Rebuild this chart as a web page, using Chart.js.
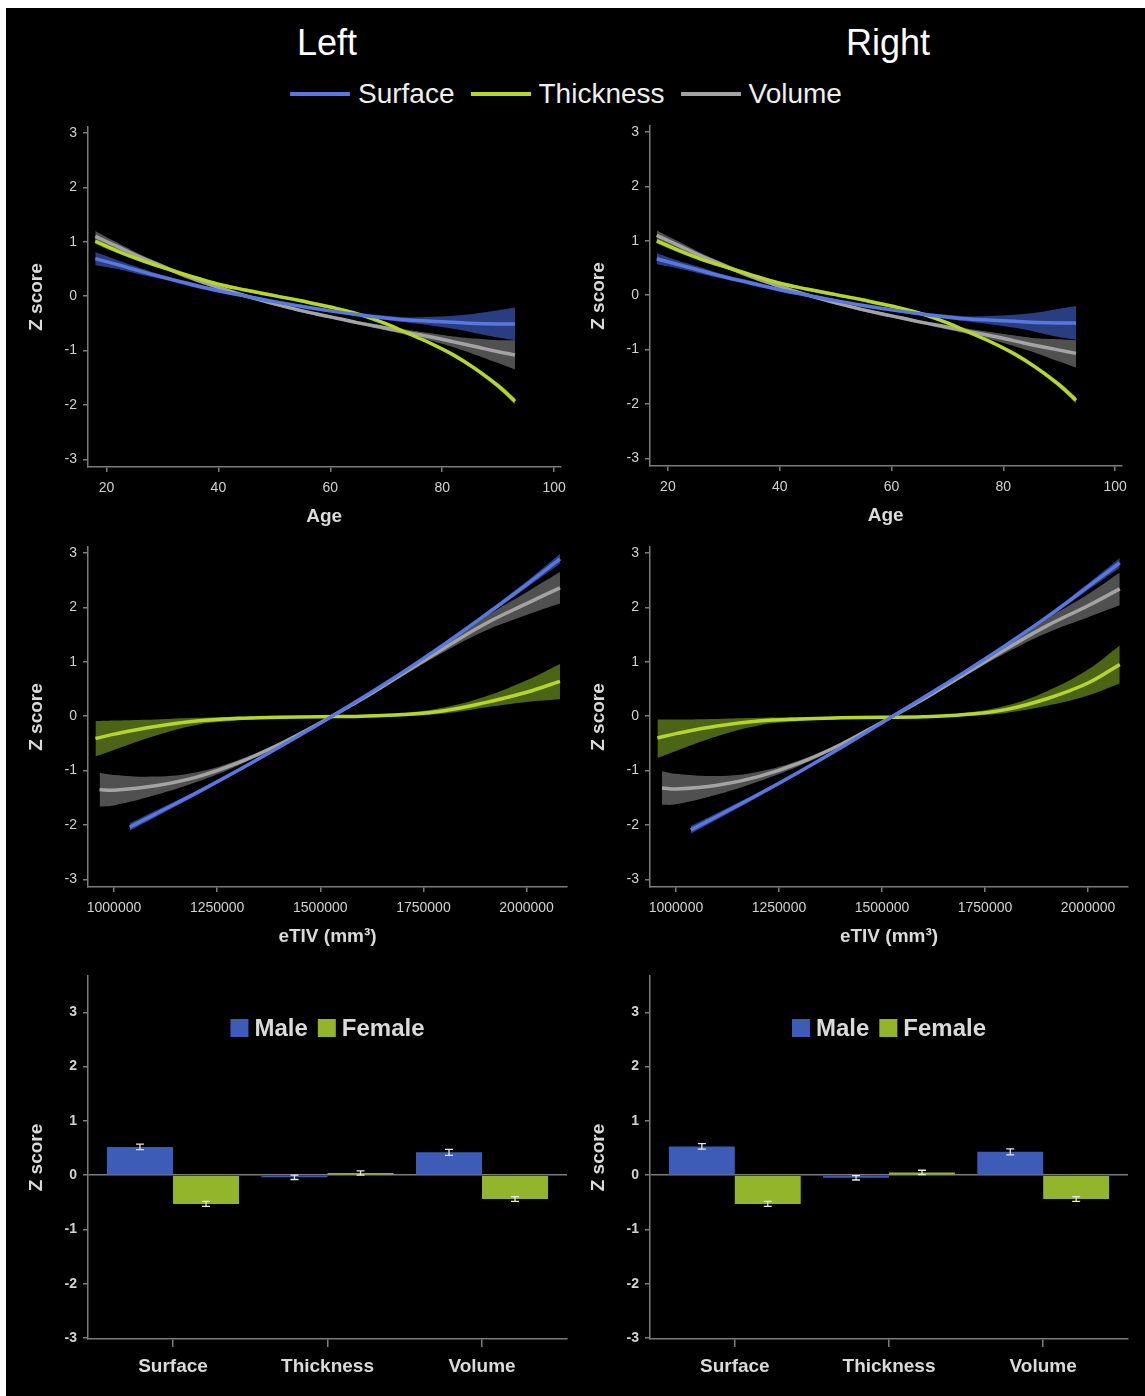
<!DOCTYPE html>
<html>
<head>
<meta charset="utf-8">
<script src="https://cdn.jsdelivr.net/npm/chart.js@4.4.1/dist/chart.umd.min.js"></script>
<style>
  body { margin: 0; background: #fff; overflow: hidden; font-family: "Liberation Sans", Arial, sans-serif; }
  #bg { position: absolute; left: 6px; top: 8px; width: 1139px; height: 1388px; background: #000; }
  .side { position: absolute; top: 25px; width: 200px; margin-left: -100px; text-align: center; color: #fff; font-size: 36px; line-height: 36px; }
  #legend { position: absolute; left: 290px; top: 80px; display: flex; align-items: center; color: #eee; font-size: 28px; line-height: 28px; }
  #legend .swatch { width: 60px; height: 4px; margin-right: 8px; }
  #legend .item { margin-right: 16px; }
  canvas { position: absolute; }
</style>
</head>
<body>
<div id="bg"></div>
<div class="side" style="left:327px">Left</div>
<div class="side" style="left:888px">Right</div>
<div id="legend"></div>

<script>
// axis ticks and categories
const zTicks = [-3, -2, -1, 0, 1, 2, 3];
const ageTicks = [20, 40, 60, 80, 100];
const etivTicks = [1000000, 1250000, 1500000, 1750000, 2000000];
const categories = ['Surface', 'Thickness', 'Volume'];
const measures = ['Surface', 'Thickness', 'Volume'];

// fitted curves, rows: [x, lower, fit, upper]
const leftAgeSurface = [[18, 0.57, 0.69, 0.81], [22, 0.50, 0.58, 0.66], [26, 0.40, 0.46, 0.52], [30, 0.31, 0.35, 0.39], [35, 0.18, 0.22, 0.26], [40, 0.07, 0.10, 0.13], [45, -0.03, 0.00, 0.03], [50, -0.13, -0.10, -0.07], [55, -0.22, -0.19, -0.16], [60, -0.30, -0.27, -0.24], [65, -0.37, -0.34, -0.31], [70, -0.44, -0.40, -0.36], [74, -0.49, -0.44, -0.39], [78, -0.54, -0.46, -0.38], [82, -0.60, -0.48, -0.36], [86, -0.68, -0.50, -0.32], [90, -0.76, -0.51, -0.26], [93, -0.81, -0.51, -0.21]];
const leftAgeThickness = [[18, 0.96, 1.01, 1.06], [22, 0.79, 0.83, 0.87], [26, 0.64, 0.67, 0.70], [30, 0.50, 0.53, 0.56], [35, 0.34, 0.37, 0.40], [40, 0.19, 0.22, 0.25], [45, 0.08, 0.11, 0.14], [50, -0.02, 0.01, 0.04], [55, -0.12, -0.09, -0.06], [60, -0.23, -0.20, -0.17], [65, -0.36, -0.33, -0.30], [70, -0.54, -0.51, -0.48], [74, -0.72, -0.69, -0.66], [78, -0.90, -0.87, -0.84], [82, -1.12, -1.08, -1.04], [86, -1.38, -1.34, -1.30], [90, -1.70, -1.65, -1.60], [93, -1.99, -1.93, -1.87]];
const leftAgeVolume = [[18, 1.00, 1.10, 1.20], [22, 0.84, 0.91, 0.98], [26, 0.67, 0.72, 0.77], [30, 0.51, 0.55, 0.59], [35, 0.30, 0.34, 0.38], [40, 0.13, 0.16, 0.19], [45, -0.03, 0.00, 0.03], [50, -0.17, -0.14, -0.11], [55, -0.30, -0.27, -0.24], [60, -0.41, -0.38, -0.35], [65, -0.52, -0.49, -0.46], [70, -0.63, -0.59, -0.55], [74, -0.72, -0.67, -0.62], [78, -0.82, -0.75, -0.68], [82, -0.94, -0.84, -0.74], [86, -1.08, -0.93, -0.78], [90, -1.23, -1.02, -0.81], [93, -1.35, -1.08, -0.81]];

const rightAgeSurface = [[18, 0.57, 0.67, 0.77], [22, 0.49, 0.56, 0.63], [26, 0.39, 0.45, 0.51], [30, 0.30, 0.34, 0.38], [35, 0.18, 0.22, 0.26], [40, 0.07, 0.10, 0.13], [45, -0.03, 0.00, 0.03], [50, -0.13, -0.10, -0.07], [55, -0.22, -0.19, -0.16], [60, -0.30, -0.27, -0.24], [65, -0.37, -0.34, -0.31], [70, -0.44, -0.40, -0.36], [74, -0.49, -0.44, -0.39], [78, -0.54, -0.46, -0.38], [82, -0.60, -0.48, -0.36], [86, -0.68, -0.50, -0.32], [90, -0.77, -0.51, -0.25], [93, -0.82, -0.51, -0.20]];
const rightAgeThickness = [[18, 0.95, 1.00, 1.05], [22, 0.78, 0.82, 0.86], [26, 0.63, 0.66, 0.69], [30, 0.50, 0.53, 0.56], [35, 0.34, 0.37, 0.40], [40, 0.19, 0.22, 0.25], [45, 0.08, 0.11, 0.14], [50, -0.02, 0.01, 0.04], [55, -0.12, -0.09, -0.06], [60, -0.23, -0.20, -0.17], [65, -0.36, -0.33, -0.30], [70, -0.54, -0.51, -0.48], [74, -0.72, -0.69, -0.66], [78, -0.90, -0.87, -0.84], [82, -1.12, -1.08, -1.04], [86, -1.38, -1.34, -1.30], [90, -1.70, -1.65, -1.60], [93, -1.99, -1.93, -1.87]];
const rightAgeVolume = [[18, 1.01, 1.10, 1.19], [22, 0.84, 0.91, 0.98], [26, 0.67, 0.72, 0.77], [30, 0.51, 0.55, 0.59], [35, 0.30, 0.34, 0.38], [40, 0.13, 0.16, 0.19], [45, -0.03, 0.00, 0.03], [50, -0.17, -0.14, -0.11], [55, -0.30, -0.27, -0.24], [60, -0.41, -0.38, -0.35], [65, -0.52, -0.49, -0.46], [70, -0.63, -0.59, -0.55], [74, -0.72, -0.67, -0.62], [78, -0.82, -0.75, -0.68], [82, -0.94, -0.84, -0.74], [86, -1.07, -0.93, -0.79], [90, -1.22, -1.01, -0.81], [93, -1.33, -1.07, -0.83]];

const leftTivSurface = [[1038000, -2.11, -2.04, -1.97], [1100000, -1.86, -1.80, -1.74], [1200000, -1.45, -1.41, -1.37], [1300000, -1.03, -1.00, -0.97], [1400000, -0.60, -0.57, -0.54], [1500000, -0.16, -0.13, -0.10], [1600000, 0.30, 0.33, 0.36], [1700000, 0.78, 0.81, 0.84], [1800000, 1.28, 1.32, 1.36], [1900000, 1.82, 1.86, 1.90], [2000000, 2.36, 2.42, 2.48], [2081000, 2.80, 2.89, 2.98]];
const leftTivThickness = [[955000, -0.74, -0.41, -0.09], [1000000, -0.62, -0.33, -0.08], [1100000, -0.36, -0.19, -0.06], [1200000, -0.16, -0.09, -0.03], [1300000, -0.08, -0.04, -0.01], [1400000, -0.04, -0.02, 0.00], [1500000, -0.03, -0.01, 0.01], [1600000, -0.02, 0.00, 0.02], [1700000, 0.00, 0.03, 0.06], [1800000, 0.05, 0.10, 0.16], [1900000, 0.16, 0.25, 0.36], [2000000, 0.26, 0.44, 0.66], [2081000, 0.31, 0.64, 0.96]];
const leftTivVolume = [[965000, -1.66, -1.35, -1.04], [1000000, -1.64, -1.36, -1.08], [1100000, -1.45, -1.28, -1.11], [1200000, -1.21, -1.12, -1.03], [1300000, -0.91, -0.86, -0.81], [1400000, -0.55, -0.52, -0.49], [1500000, -0.14, -0.12, -0.10], [1600000, 0.28, 0.31, 0.34], [1700000, 0.74, 0.78, 0.82], [1800000, 1.18, 1.25, 1.32], [1900000, 1.57, 1.70, 1.83], [2000000, 1.86, 2.07, 2.28], [2081000, 2.07, 2.36, 2.65]];

const rightTivSurface = [[1036000, -2.16, -2.09, -2.02], [1100000, -1.90, -1.84, -1.78], [1200000, -1.48, -1.44, -1.40], [1300000, -1.05, -1.02, -0.99], [1400000, -0.61, -0.58, -0.55], [1500000, -0.15, -0.12, -0.09], [1600000, 0.31, 0.34, 0.37], [1700000, 0.78, 0.81, 0.84], [1800000, 1.26, 1.30, 1.34], [1900000, 1.78, 1.82, 1.86], [2000000, 2.32, 2.38, 2.44], [2077000, 2.73, 2.82, 2.91]];
const rightTivThickness = [[955000, -0.77, -0.40, -0.06], [1000000, -0.64, -0.32, -0.06], [1100000, -0.37, -0.18, -0.05], [1200000, -0.17, -0.09, -0.03], [1300000, -0.09, -0.05, -0.02], [1400000, -0.05, -0.03, -0.01], [1500000, -0.04, -0.02, 0.00], [1600000, -0.03, -0.01, 0.01], [1700000, 0.00, 0.03, 0.06], [1800000, 0.06, 0.12, 0.19], [1900000, 0.19, 0.32, 0.46], [2000000, 0.38, 0.61, 0.86], [2077000, 0.60, 0.95, 1.30]];
const rightTivVolume = [[966000, -1.63, -1.32, -1.01], [1000000, -1.62, -1.34, -1.06], [1100000, -1.44, -1.27, -1.10], [1200000, -1.20, -1.11, -1.02], [1300000, -0.91, -0.86, -0.81], [1400000, -0.55, -0.52, -0.49], [1500000, -0.13, -0.11, -0.09], [1600000, 0.28, 0.31, 0.34], [1700000, 0.73, 0.77, 0.81], [1800000, 1.16, 1.23, 1.30], [1900000, 1.53, 1.66, 1.79], [2000000, 1.82, 2.03, 2.24], [2077000, 2.04, 2.34, 2.64]];

// sex differences per measure, with error bar half widths
const leftMale = [0.52, -0.04, 0.42];
const leftMaleErr = [0.05, 0.04, 0.055];
const leftFemale = [-0.53, 0.04, -0.44];
const leftFemaleErr = [0.045, 0.04, 0.045];
const rightMale = [0.53, -0.05, 0.43];
const rightMaleErr = [0.05, 0.04, 0.055];
const rightFemale = [-0.53, 0.05, -0.44];
const rightFemaleErr = [0.045, 0.04, 0.045];

const lineColors = ['#5878e0', '#b5d62a', '#a3a3a3'];
const bandColors = ['#2a3d80', '#4b6415', '#505050'];
const barColors = ['#3d5cb8', '#93b52b'];
const axisColor = '#7c7c7c';
const tickColor = '#d2d2d2';
const titleColor = '#dadada';

Chart.defaults.font.family = "'Liberation Sans', Arial, sans-serif";
Chart.defaults.color = tickColor;

// shared legend on top
const legendEl = document.getElementById('legend');
measures.forEach((m, i) => {
  const sw = document.createElement('span');
  sw.className = 'swatch';
  sw.style.background = lineColors[i];
  const tx = document.createElement('span');
  tx.className = 'item';
  tx.textContent = m;
  legendEl.appendChild(sw);
  legendEl.appendChild(tx);
});

const Y_W = 82, X_H = 76, PAD_T = 16, PAD_R = 12;

function makeCtx(box) {
  const c = document.createElement('canvas');
  c.width = box.r - box.l + Y_W + PAD_R;
  c.height = box.b - box.t + PAD_T + X_H;
  c.style.left = (box.l - Y_W) + 'px';
  c.style.top = (box.t - PAD_T) + 'px';
  document.body.appendChild(c);
  return c.getContext('2d');
}

function zScale(min, max, bold, zeroLine) {
  return {
    min: min, max: max,
    afterBuildTicks: s => { s.ticks = zTicks.map(v => ({ value: v })); },
    afterFit: s => { s.width = Y_W; },
    border: { color: axisColor, width: 1.5 },
    grid: {
      drawOnChartArea: zeroLine,
      color: c => (zeroLine && c.tick && c.tick.value === 0) ? axisColor : 'rgba(0,0,0,0)',
      tickColor: axisColor, tickLength: 5, lineWidth: 1.5
    },
    ticks: { color: tickColor, font: { size: 14, weight: bold ? 'bold' : 'normal' }, padding: 6 },
    title: { display: true, text: 'Z score', color: titleColor, font: { size: 19, weight: 'bold' }, padding: { top: 19, bottom: 0 } }
  };
}

function xScale(min, max, ticks, label) {
  return {
    type: 'linear', min: min, max: max,
    afterBuildTicks: s => { s.ticks = ticks.map(v => ({ value: v })); },
    afterFit: s => { s.height = X_H; },
    border: { color: axisColor, width: 1.5 },
    grid: { drawOnChartArea: false, color: axisColor, tickLength: 5, lineWidth: 1.5 },
    ticks: { color: tickColor, font: { size: 14 }, padding: 8, callback: v => String(v) },
    title: { display: true, text: label, color: titleColor, font: { size: 19, weight: 'bold' }, padding: { top: 0, bottom: 15 } }
  };
}

function bandSets(rows, i) {
  const common = { pointRadius: 0, tension: 0.4 };
  return [
    Object.assign({ data: rows.map(r => ({ x: r[0], y: r[3] })), borderWidth: 0, borderColor: 'transparent', fill: false, order: 2 }, common),
    Object.assign({ data: rows.map(r => ({ x: r[0], y: r[1] })), borderWidth: 0, borderColor: 'transparent', fill: '-1', backgroundColor: bandColors[i], order: 2 }, common),
    Object.assign({ data: rows.map(r => ({ x: r[0], y: r[2] })), borderColor: lineColors[i], borderWidth: 3.5, fill: false, order: 1 }, common)
  ];
}

function curveChart(box, series, xmin, xmax, ticks, label) {
  let datasets = [];
  series.forEach((rows, i) => { datasets = datasets.concat(bandSets(rows, i)); });
  new Chart(makeCtx(box), {
    type: 'line',
    data: { datasets: datasets },
    options: {
      responsive: false, animation: false,
      layout: { padding: { top: PAD_T, right: PAD_R, left: 0, bottom: 0 } },
      plugins: { legend: { display: false }, tooltip: { enabled: false } },
      scales: { x: xScale(xmin, xmax, ticks, label), y: zScale(-3.14, 3.11, false, false) }
    }
  });
}

// error bars drawn through the y scale
const errorBars = {
  id: 'errorBars',
  afterDatasetsDraw(chart) {
    const ctx = chart.ctx, y = chart.scales.y;
    ctx.save();
    ctx.strokeStyle = '#e8e8e8';
    ctx.lineWidth = 1.3;
    chart.data.datasets.forEach((ds, i) => {
      chart.getDatasetMeta(i).data.forEach((bar, j) => {
        const v = ds.data[j].y, e = ds.errors[j];
        const y1 = y.getPixelForValue(v - e), y2 = y.getPixelForValue(v + e);
        ctx.beginPath();
        ctx.moveTo(bar.x, y1); ctx.lineTo(bar.x, y2);
        ctx.moveTo(bar.x - 4, y1); ctx.lineTo(bar.x + 4, y1);
        ctx.moveTo(bar.x - 4, y2); ctx.lineTo(bar.x + 4, y2);
        ctx.stroke();
      });
    });
    ctx.restore();
  }
};

// Male / Female legend inside the plot area
const barLegend = {
  id: 'barLegend',
  afterDraw(chart) {
    const ctx = chart.ctx, area = chart.chartArea;
    ctx.save();
    ctx.font = "bold 24px 'Liberation Sans', Arial, sans-serif";
    ctx.textBaseline = 'middle';
    const box = 18, gap = 6, sep = 10;
    const items = chart.data.datasets;
    let total = sep * (items.length - 1);
    items.forEach(d => { total += box + gap + ctx.measureText(d.label).width; });
    let x = (area.left + area.right) / 2 - total / 2;
    const y = area.top + 52;
    items.forEach(d => {
      ctx.fillStyle = d.backgroundColor;
      ctx.fillRect(x, y - box / 2, box, box);
      x += box + gap;
      ctx.fillStyle = titleColor;
      ctx.fillText(d.label, x, y + 1);
      x += ctx.measureText(d.label).width + sep;
    });
    ctx.restore();
  }
};

function barChart(box, male, maleErr, female, femaleErr) {
  new Chart(makeCtx(box), {
    type: 'bar',
    data: {
      datasets: [
        { label: 'Male', data: male.map((v, i) => ({ x: i, y: v })), errors: maleErr, backgroundColor: barColors[0] },
        { label: 'Female', data: female.map((v, i) => ({ x: i, y: v })), errors: femaleErr, backgroundColor: barColors[1] }
      ]
    },
    options: {
      responsive: false, animation: false,
      categoryPercentage: 0.855, barPercentage: 1.0,
      layout: { padding: { top: PAD_T, right: PAD_R, left: 0, bottom: 0 } },
      plugins: { legend: { display: false }, tooltip: { enabled: false } },
      scales: {
        x: {
          type: 'linear', min: -0.55, max: 2.55, offset: false,
          afterBuildTicks: s => { s.ticks = categories.map((c, i) => ({ value: i })); },
          afterFit: s => { s.height = X_H; },
          border: { color: axisColor, width: 1.5 },
          grid: { offset: false, drawOnChartArea: false, color: axisColor, tickLength: 8, lineWidth: 1.5 },
          ticks: { color: titleColor, font: { size: 19, weight: 'bold' }, padding: 8, callback: v => categories[v] }
        },
        y: zScale(-3.02, 3.67, true, true)
      }
    },
    plugins: [errorBars, barLegend]
  });
}

curveChart({ l: 88, t: 127, r: 562, b: 467 }, [leftAgeSurface, leftAgeThickness, leftAgeVolume], 16.7, 101.1, ageTicks, 'Age');
curveChart({ l: 650, t: 126, r: 1123, b: 466 }, [rightAgeSurface, rightAgeThickness, rightAgeVolume], 16.8, 101.1, ageTicks, 'Age');
curveChart({ l: 88, t: 547, r: 567, b: 887 }, [leftTivSurface, leftTivThickness, leftTivVolume], 937000, 2098000, etivTicks, 'eTIV (mm\u00B3)');
curveChart({ l: 650, t: 547, r: 1128, b: 887 }, [rightTivSurface, rightTivThickness, rightTivVolume], 937000, 2097000, etivTicks, 'eTIV (mm\u00B3)');
barChart({ l: 88, t: 976, r: 567, b: 1339 }, leftMale, leftMaleErr, leftFemale, leftFemaleErr);
barChart({ l: 650, t: 976, r: 1128, b: 1339 }, rightMale, rightMaleErr, rightFemale, rightFemaleErr);
</script>
</body>
</html>
